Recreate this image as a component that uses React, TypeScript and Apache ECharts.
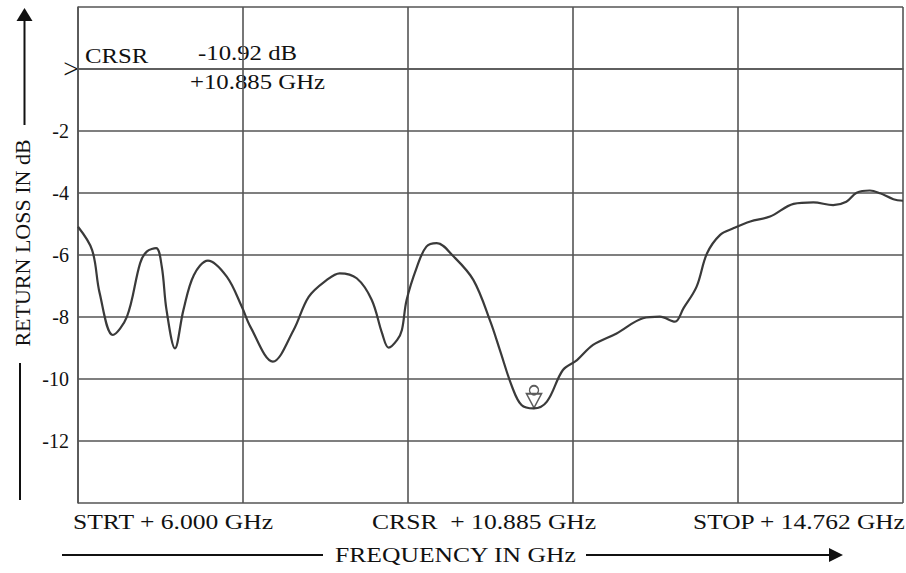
import React, { useEffect, useRef } from "react";
import * as echarts from "echarts";

const freqGHz = [
  6.0, 6.15, 6.23, 6.37, 6.52, 6.66, 6.73, 6.83, 6.89, 6.94,
  7.03, 7.12, 7.23, 7.38, 7.58, 7.74, 7.83, 8.07, 8.29, 8.45,
  8.64, 8.78, 8.96, 9.12, 9.23, 9.3, 9.39, 9.44, 9.49, 9.6,
  9.7, 9.81, 9.99, 10.2, 10.38, 10.48, 10.61, 10.71, 10.84, 10.98,
  11.15, 11.3, 11.47, 11.72, 12.0, 12.18, 12.34, 12.43, 12.57, 12.68,
  12.82, 12.96, 13.14, 13.35, 13.6, 13.81, 14.02, 14.16, 14.27, 14.41,
  14.52, 14.66, 14.762,
];
const returnLossDb = [
  -5.09, -5.84, -7.23, -8.58, -7.99, -6.26, -5.89, -5.78, -6.38, -7.77,
  -9.01, -7.77, -6.65, -6.18, -6.7, -7.67, -8.31, -9.44, -8.42, -7.35,
  -6.81, -6.59, -6.75, -7.45, -8.53, -8.99, -8.74, -8.42, -7.45, -6.38,
  -5.73, -5.62, -6.05, -6.81, -8.15, -9.06, -10.25, -10.84, -10.95, -10.73,
  -9.71, -9.39, -8.9, -8.53, -8.04, -7.99, -8.15, -7.72, -7.02, -5.95,
  -5.35, -5.14, -4.92, -4.76, -4.35, -4.3, -4.39, -4.28, -3.99, -3.92,
  -4.01, -4.2, -4.25,
];
const startGHz = 6.0;
const stopGHz = 14.762;
const cursorFreq = 10.843; // where the marker sits on the trace
const cursorDb = -10.93;
const yMin = -14;
const yMax = 2;
const yStep = 2;
const xDivisions = 5;

const cursorText = ["CRSR", "-10.92 dB", "+10.885 GHz"];
const bottomLabels = ["STRT + 6.000 GHz", "CRSR  + 10.885 GHz", "STOP + 14.762 GHz"];
const xTitle = "FREQUENCY IN GHz";
const yTitle = "RETURN LOSS IN dB";

const FONT = "'Liberation Serif', 'Times New Roman', serif";
const INK = "#111";

export default function App() {
  const ref = useRef<HTMLDivElement>(null);
  useEffect(() => {
    if (!ref.current) return;
    const chart = echarts.init(ref.current, null, { renderer: "svg" });
    const lineData = freqGHz.map((f, i) => [f, returnLossDb[i]]);
    const markerPath =
      "path://M0,8 L15,8 L7.5,22 Z M3,4.5 A4.5,4.5 0 1 1 12,4.5 A4.5,4.5 0 1 1 3,4.5 Z";
    const txt = (
      text: string,
      x: number,
      y: number,
      size: number,
      sx: number,
      align = "left"
    ) => ({
      type: "text",
      x,
      y,
      scaleX: sx,
      silent: true,
      style: {
        text,
        fontSize: size,
        fontFamily: FONT,
        fill: INK,
        align,
        verticalAlign: "middle",
      },
    });
    chart.setOption({
      animation: false,
      backgroundColor: "#fff",
      grid: { left: 78, right: 3, top: 7, bottom: 70, containLabel: false },
      xAxis: [
        {
          type: "value",
          min: 0,
          max: xDivisions,
          interval: 1,
          axisLine: { show: true, lineStyle: { color: "#555", width: 1.6 } },
          axisTick: { show: false },
          axisLabel: { show: false },
          splitLine: { show: true, lineStyle: { color: "#555", width: 1.6 } },
        },
        {
          type: "value",
          min: startGHz,
          max: stopGHz,
          show: false,
          splitLine: { show: false },
        },
      ],
      yAxis: {
        type: "value",
        min: yMin,
        max: yMax,
        interval: yStep,
        axisLine: { show: true, lineStyle: { color: "#555", width: 1.6 } },
        axisTick: { show: false },
        axisLabel: {
          margin: 9,
          fontSize: 20,
          fontFamily: FONT,
          color: INK,
          formatter: (v: number) => (v <= -2 && v >= -12 ? String(v) : ""),
        },
        splitLine: { show: true, lineStyle: { color: "#555", width: 1.6 } },
      },
      series: [
        {
          type: "line",
          xAxisIndex: 1,
          data: lineData,
          smooth: 0.35,
          showSymbol: false,
          lineStyle: { color: "#3a3a3a", width: 2.2 },
          silent: true,
        },
        {
          type: "scatter",
          xAxisIndex: 1,
          data: [[cursorFreq, cursorDb]],
          symbol: markerPath,
          symbolSize: [15, 22],
          symbolOffset: [0, -11],
          itemStyle: { color: "#fff", borderColor: "#333", borderWidth: 1.6 },
          silent: true,
          z: 5,
        },
      ],
      graphic: [
        txt(">", 79, 68, 28, 1, "right"),
        txt(cursorText[0], 85, 56, 21, 1.18),
        txt(cursorText[1], 198, 53, 21, 1.18),
        txt(cursorText[2], 190, 82, 21, 1.18),
        txt(bottomLabels[0], 73, 522, 20, 1.28),
        txt(bottomLabels[1], 372, 522, 20, 1.28),
        txt(bottomLabels[2], 693, 522, 20, 1.27),
        txt(xTitle, 335, 555, 20, 1.28),
        {
          type: "text",
          x: 22,
          y: 243,
          rotation: Math.PI / 2,
          silent: true,
          style: {
            text: yTitle,
            fontSize: 22,
            fontFamily: FONT,
            fill: INK,
            align: "center",
            verticalAlign: "middle",
          },
        },
        // y-axis arrow
        {
          type: "line",
          silent: true,
          shape: { x1: 24.5, y1: 19, x2: 24.5, y2: 125 },
          style: { stroke: INK, lineWidth: 2 },
        },
        {
          type: "polygon",
          silent: true,
          shape: { points: [[24.5, 8], [16.5, 21], [32.5, 21]] },
          style: { fill: INK },
        },
        {
          type: "line",
          silent: true,
          shape: { x1: 20, y1: 363, x2: 20, y2: 500 },
          style: { stroke: INK, lineWidth: 2 },
        },
        // x-axis arrow
        {
          type: "line",
          silent: true,
          shape: { x1: 62, y1: 555, x2: 323, y2: 555 },
          style: { stroke: INK, lineWidth: 2 },
        },
        {
          type: "line",
          silent: true,
          shape: { x1: 586, y1: 555, x2: 832, y2: 555 },
          style: { stroke: INK, lineWidth: 2 },
        },
        {
          type: "polygon",
          silent: true,
          shape: { points: [[829, 548], [843, 555], [829, 562]] },
          style: { fill: INK },
        },
      ],
    });
    return () => chart.dispose();
  }, []);
  return (
    <div
      ref={ref}
      style={{
        position: "absolute",
        left: 0,
        top: 0,
        width: 906,
        height: 573,
        background: "#fff",
      }}
    />
  );
}
